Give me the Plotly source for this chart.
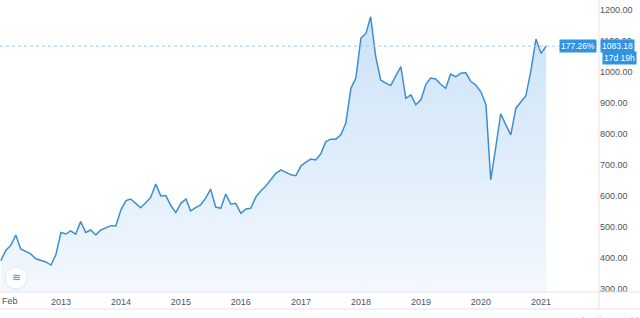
import pandas as pd
import plotly.graph_objects as go

# ---- data (monthly closes) ----
start_month = "2012-01-01"
values = [390.7, 425, 440, 474, 429, 421, 413, 397, 392, 387, 377, 410,
          482, 477, 487, 477, 517, 482, 490, 474, 490, 498, 504, 503,
          555, 585, 590, 576, 562, 578, 595, 638, 600, 601, 569, 546,
          576, 590, 552, 562, 571, 593, 622, 564, 560, 606, 573, 576,
          544, 558, 560, 596, 616, 632, 652, 673, 684, 676, 668, 665,
          697, 709, 719, 716, 735, 775, 783, 783, 797, 835, 947, 980,
          1109, 1125, 1178, 1049, 974, 964, 956, 987, 1017, 915, 926, 894,
          910, 961, 980, 977, 960, 947, 993, 985, 996, 998, 969, 958,
          936, 894, 652, 758, 865, 829, 797, 883, 904, 923, 1006, 1106,
          1060, 1083.18]
dates = pd.date_range(start_month, periods=len(values), freq="MS")

x_tickvals = ["2012-02-01", "2013-01-01", "2014-01-01", "2015-01-01", "2016-01-01",
              "2017-01-01", "2018-01-01", "2019-01-01", "2020-01-01", "2021-01-01"]
x_ticktext = ["Feb", "2013", "2014", "2015", "2016", "2017", "2018", "2019", "2020", "2021"]
y_tickvals = [300, 400, 500, 600, 700, 800, 900, 1000, 1100, 1200]

last_price = values[-1]
pct_label = "177.26%"
price_label = "1083.18"
countdown_label = "17d 19h"

# ---- layout geometry ----
W, H = 640, 318
ML, MR, MT, MB = 0, 41, 0, 26
PW, PH = W - ML - MR, H - MT - MB


def px(x):
    return (x - ML) / PW


def py(y):
    return (H - MB - y) / PH


LINE = "#3b8fd0"
GRID = "#e0e3eb"
TXT = "#50535e"
FONT = "Liberation Sans"
BOX = "#2f94e6"

fig = go.Figure()
fig.add_trace(go.Scatter(
    x=dates, y=values, mode="lines",
    line=dict(color=LINE, width=1.5),
    fill="tozeroy",
    fillgradient=dict(type="vertical", start=290, stop=1180,
                      colorscale=[[0, "rgba(242,248,254,1)"], [1, "rgba(204,226,247,1)"]]),
    hoverinfo="skip", showlegend=False,
))

shapes = [
    # last-price dotted line
    dict(type="line", xref="paper", yref="y", x0=0, x1=1, y0=last_price, y1=last_price,
         line=dict(color="#9cc8ee", width=1, dash="dot"), layer="above"),
    # cover under time axis on the price scale only (clips the 300 label)
    dict(type="rect", xref="paper", yref="paper", x0=px(599.5), x1=px(W), y0=py(H), y1=py(292.5),
         fillcolor="white", line=dict(width=0), layer="above"),
    # axis separator lines
    dict(type="line", xref="paper", yref="paper", x0=px(0), x1=px(W), y0=py(292), y1=py(292),
         line=dict(color=GRID, width=1), layer="above"),
    dict(type="line", xref="paper", yref="paper", x0=px(0), x1=px(W), y0=py(309), y1=py(309),
         line=dict(color=GRID, width=1), layer="above"),
    dict(type="line", xref="paper", yref="paper", x0=1, x1=1, y0=py(309), y1=py(0),
         line=dict(color=GRID, width=1), layer="above"),
    # logo circle
    dict(type="circle", xref="paper", yref="paper", x0=px(5), x1=px(27), y0=py(289), y1=py(267),
         fillcolor="white", line=dict(color="#e3e6ec", width=1), layer="above"),
]

annotations = [
    dict(xref="paper", yref="y", x=1, y=last_price, xanchor="left", yanchor="middle", xshift=1,
         text=price_label, showarrow=False, bgcolor=BOX, borderpad=1,
         font=dict(family=FONT, size=8.5, color="white")),
    dict(xref="paper", yref="y", x=1, y=last_price, xanchor="right", yanchor="middle", xshift=-2,
         text=pct_label, showarrow=False, bgcolor=BOX, borderpad=1,
         font=dict(family=FONT, size=8.5, color="white")),
    dict(xref="paper", yref="y", x=1, y=last_price, xanchor="left", yanchor="middle", xshift=3, yshift=-12,
         text=countdown_label, showarrow=False, bgcolor=BOX, borderpad=1,
         font=dict(family=FONT, size=8.5, color="white")),
    # first time-axis label (kept inside the page at the left edge)
    dict(xref="paper", yref="paper", x=px(0), y=py(301), xanchor="left", yanchor="middle",
         text=x_ticktext[0], showarrow=False, font=dict(family=FONT, size=9, color=TXT)),
    # logo glyph
    dict(xref="paper", yref="paper", x=px(16), y=py(277), xanchor="center", yanchor="middle",
         text="≋", showarrow=False, font=dict(family="DejaVu Sans", size=11, color="#3b8fd0")),
    # OS watermark at bottom right
    dict(xref="paper", yref="paper", x=px(577), y=py(310), xanchor="left", yanchor="top",
         text="Activate Windows", showarrow=False,
         font=dict(family="Noto Sans", size=13, color="#c8c8c8")),
]

fig.update_layout(
    width=W, height=H,
    margin=dict(l=ML, r=MR, t=MT, b=MB, pad=0),
    paper_bgcolor="white", plot_bgcolor="white",
    shapes=shapes, annotations=annotations,
    xaxis=dict(range=["2011-12-27", "2021-12-20"], tickvals=x_tickvals[1:], ticktext=x_ticktext[1:],
               showgrid=False, zeroline=False, showline=False, ticks="", ticklabelstandoff=3,
               tickfont=dict(family=FONT, size=9, color=TXT), fixedrange=True),
    yaxis=dict(range=[290, 1232], side="right", tickvals=y_tickvals, tickformat=".2f",
               showgrid=False, zeroline=False, showline=False, ticks="",
               tickfont=dict(family=FONT, size=9, color=TXT), fixedrange=True),
    font=dict(family=FONT),
)

fig.write_html("out.html", config={"displayModeBar": False})
